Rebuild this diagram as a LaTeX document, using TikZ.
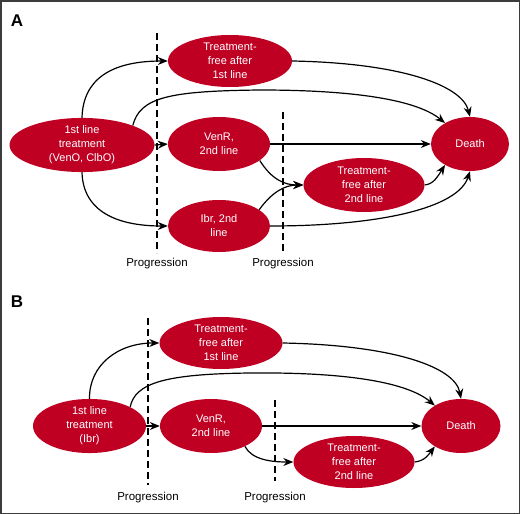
\documentclass[tikz,border=0pt]{standalone}
\usepackage{fontspec}
\setmainfont{Liberation Sans}
\usetikzlibrary{shapes.geometric,arrows.meta}
\definecolor{nodered}{RGB}{192,0,35}
\definecolor{framegray}{RGB}{60,60,60}
\tikzset{
  state/.style={ellipse, fill=nodered, text=white, inner sep=0pt, align=center,
    font=\fontsize{11}{14}\selectfont},
  conn/.style={line width=1.2pt, -{Stealth[length=10pt,width=8pt]}},
  progline/.style={line width=1.2pt, dash pattern=on 7pt off 4pt},
  proglabel/.style={font=\fontsize{11.5}{14}\selectfont, text=black},
  panel/.style={font=\fontsize{17}{20}\selectfont\bfseries}
}
\begin{document}
\begin{tikzpicture}[x=1pt,y=1pt]
\useasboundingbox (0,0) rectangle (520,-514);
\draw[framegray, line width=1.5pt] (0.75,-0.75) rectangle (519.25,-513.25);

% ---------- Panel A ----------
\node[panel] (labA) at (17,-21) {A};
\draw[progline] (157,-33) coordinate (pa1t) -- (157,-253) coordinate (pa1b);
\draw[progline] (283,-112) coordinate (pa2t) -- (283,-251) coordinate (pa2b);
\node[proglabel] (pA1) at (157,-264) {Progression};
\node[proglabel] (pA2) at (283,-264) {Progression};

\node[state, minimum width=145pt, minimum height=54pt] (a1) at (82,-145) {1st line\\treatment\\(VenO, ClbO)};
\node[state, minimum width=124pt, minimum height=52pt] (atf1) at (230,-61) {Treatment-\\free after\\1st line};
\node[state, minimum width=102pt, minimum height=54pt] (aven) at (219,-144) {VenR,\\2nd line};
\node[state, minimum width=102pt, minimum height=52pt] (aibr) at (219,-226) {Ibr, 2nd\\line};
\node[state, minimum width=121pt, minimum height=54pt] (atf2) at (364,-185) {Treatment-\\free after\\2nd line};
\node[state, minimum width=78pt, minimum height=54pt] (adeath) at (470,-144) {Death};

\draw[conn] (a1.north) .. controls (83,-80) and (110,-61) .. (atf1.west);
\draw[conn] (a1.21) .. controls (140,-97) and (170,-91) .. (260,-90) .. controls (360,-90) and (418,-101) .. (adeath.140);
\draw[conn] (a1.east) -- (aven.west);
\draw[conn] (a1.south) .. controls (83,-212) and (118,-226) .. (aibr.west);
\draw[conn] (atf1.east) .. controls (400,-63) and (462,-85) .. (adeath.north);
\draw[conn] (aven.east) -- (adeath.west);
\draw[conn] (aven.-22) .. controls (272,-180) and (285,-185) .. (atf2.west);
\draw[conn] (aibr.22) .. controls (272,-192) and (285,-185) .. (atf2.west);
\draw[conn] (atf2.east) .. controls (434,-184) and (438,-176) .. (adeath.-140);
\draw[conn] (aibr.east) .. controls (380,-226) and (458,-208) .. (adeath.south);

% ---------- Panel B ----------
\node[panel] (labB) at (17,-302) {B};
\draw[progline] (148,-318) coordinate (pb1t) -- (148,-485) coordinate (pb1b);
\draw[progline] (275,-400) coordinate (pb2t) -- (275,-481) coordinate (pb2b);
\node[proglabel] (pB1) at (148,-498) {Progression};
\node[proglabel] (pB2) at (275,-498) {Progression};

\node[state, minimum width=113pt, minimum height=53pt] (b1) at (89.5,-426) {1st line\\treatment\\(Ibr)};
\node[state, minimum width=123pt, minimum height=52pt] (btf1) at (221,-343) {Treatment-\\free after\\1st line};
\node[state, minimum width=102pt, minimum height=54pt] (bven) at (211,-426) {VenR,\\2nd line};
\node[state, minimum width=121pt, minimum height=52pt] (btf2) at (354,-462) {Treatment-\\free after\\2nd line};
\node[state, minimum width=79pt, minimum height=54pt] (bdeath) at (461,-426) {Death};

\draw[conn] (b1.north) .. controls (89,-365) and (118,-343) .. (btf1.west);
\draw[conn] (b1.25) .. controls (135,-383) and (165,-374) .. (250,-373) .. controls (350,-372) and (408,-383) .. (bdeath.142);
\draw[conn] (b1.east) -- (bven.west);
\draw[conn] (btf1.east) .. controls (390,-345) and (455,-366) .. (bdeath.north);
\draw[conn] (bven.east) -- (bdeath.west);
\draw[conn] (bven.-31) .. controls (252,-460) and (272,-462) .. (btf2.west);
\draw[conn] (btf2.east) .. controls (425,-461) and (429,-454) .. (bdeath.-142);
\end{tikzpicture}
\end{document}
